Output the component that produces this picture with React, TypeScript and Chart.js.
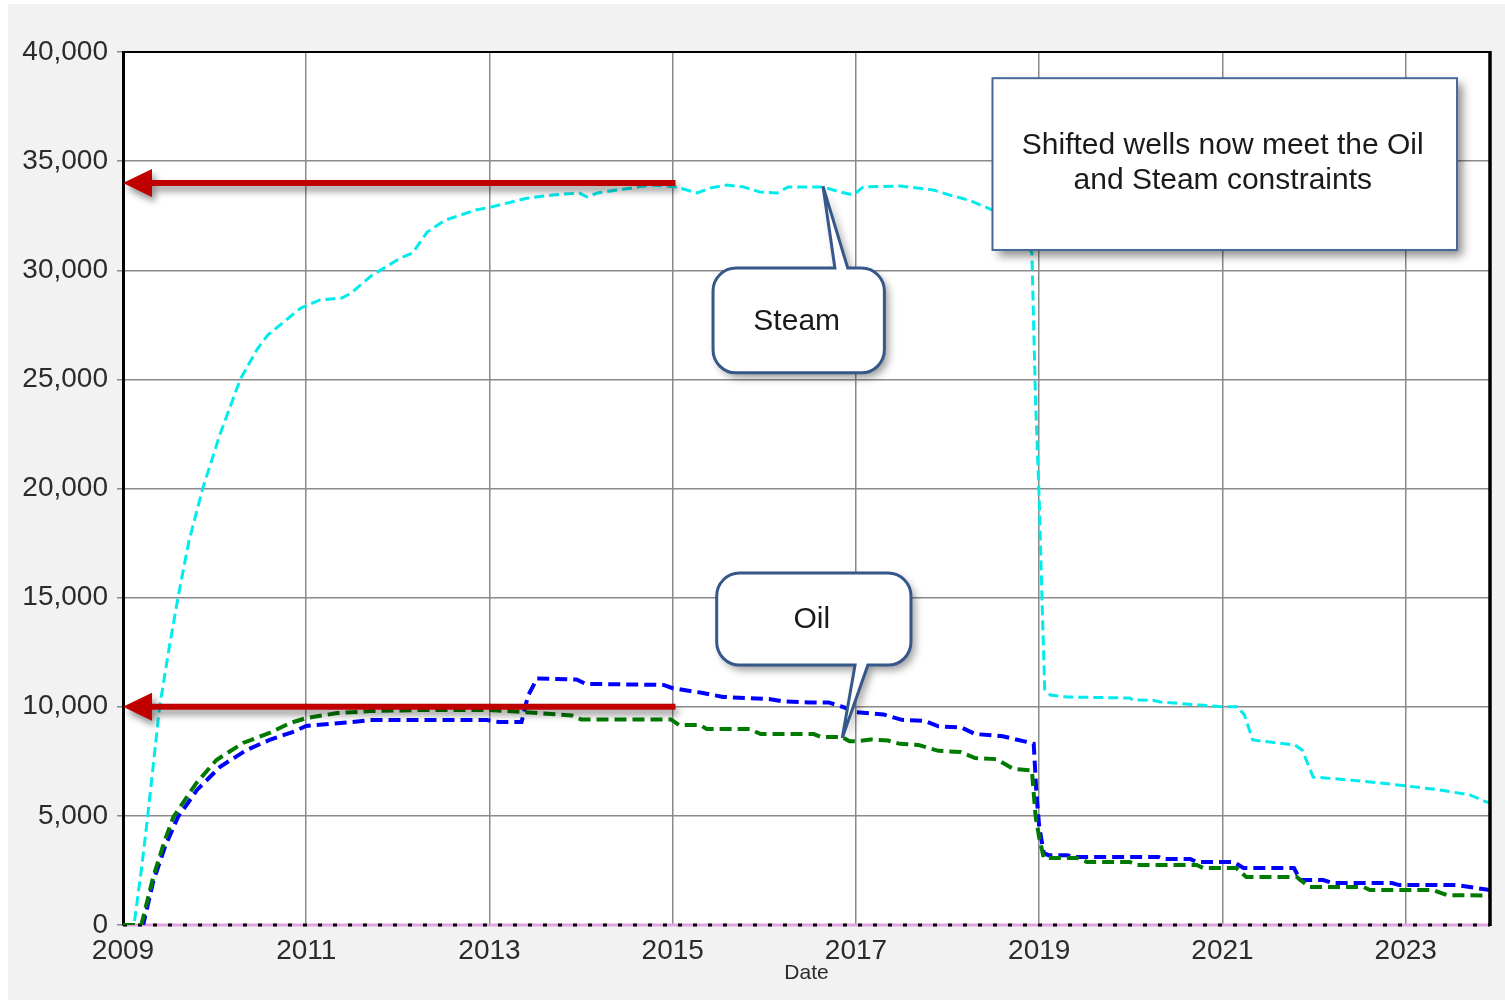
import React, { useEffect, useRef } from 'react';
import { Chart, registerables } from 'chart.js';

Chart.register(...registerables);

// ---------- data (decimal years, values) ----------
const steamDates = [2009.0, 2009.12, 2009.2, 2009.27, 2009.4, 2009.5, 2009.6, 2009.72, 2009.87, 2010.06, 2010.28, 2010.46, 2010.58, 2010.94, 2011.15, 2011.39, 2011.49, 2011.72, 2012.03, 2012.16, 2012.32, 2012.52, 2012.85, 2013.02, 2013.41, 2013.69, 2013.98, 2014.06, 2014.18, 2014.63, 2014.78, 2015.03, 2015.27, 2015.41, 2015.59, 2015.77, 2015.95, 2016.14, 2016.26, 2016.64, 2016.82, 2016.97, 2017.08, 2017.48, 2017.84, 2018.02, 2018.24, 2018.49, 2018.7, 2018.92, 2018.96, 2019.0, 2019.03, 2019.06, 2019.12, 2019.3, 2019.99, 2020.02, 2020.24, 2020.32, 2020.75, 2020.99, 2021.16, 2021.24, 2021.33, 2021.52, 2021.79, 2021.87, 2021.99, 2022.12, 2022.39, 2022.72, 2023.01, 2023.37, 2023.7, 2023.88, 2023.92];
const steamValues = [0, 0, 2500, 5000, 10000, 12600, 15000, 17600, 20000, 22500, 25000, 26350, 27030, 28270, 28640, 28730, 28960, 29780, 30560, 30790, 31750, 32300, 32760, 32900, 33300, 33450, 33540, 33360, 33540, 33820, 33900, 33820, 33540, 33770, 33900, 33820, 33590, 33540, 33820, 33820, 33590, 33450, 33820, 33860, 33680, 33450, 33200, 32760, 32200, 30800, 24000, 19500, 15000, 10800, 10540, 10450, 10400, 10310, 10300, 10220, 10080, 10000, 10000, 9620, 8480, 8380, 8250, 8020, 6780, 6740, 6640, 6510, 6370, 6190, 5960, 5640, 5600];

const blueDates = [2009.0, 2009.22, 2009.33, 2009.46, 2009.6, 2009.81, 2010.06, 2010.35, 2010.6, 2010.85, 2011.0, 2011.5, 2011.7, 2012.97, 2013.1, 2013.35, 2013.42, 2013.52, 2013.95, 2014.05, 2014.9, 2015.0, 2015.3, 2015.55, 2016.05, 2016.2, 2016.5, 2016.7, 2016.85, 2017.0, 2017.3, 2017.5, 2017.75, 2017.9, 2018.15, 2018.3, 2018.6, 2018.85, 2018.94, 2018.97, 2019.0, 2019.05, 2019.1, 2019.3, 2019.38, 2020.3, 2020.35, 2020.65, 2020.72, 2021.12, 2021.23, 2021.78, 2021.85, 2022.1, 2022.2, 2022.85, 2022.93, 2023.55, 2023.92];
const blueValues = [0, 0, 2000, 3600, 4950, 6200, 7250, 8020, 8480, 8840, 9120, 9300, 9390, 9390, 9300, 9300, 10500, 11300, 11250, 11050, 11000, 10850, 10650, 10450, 10350, 10250, 10200, 10200, 10000, 9750, 9650, 9400, 9350, 9100, 9050, 8750, 8650, 8400, 8300, 6000, 4500, 3300, 3200, 3200, 3120, 3120, 3020, 3020, 2890, 2890, 2610, 2610, 2060, 2060, 1920, 1920, 1830, 1830, 1600];

const greenDates = [2009.0, 2009.2, 2009.33, 2009.45, 2009.55, 2009.8, 2010.02, 2010.31, 2010.6, 2010.82, 2011.0, 2011.34, 2011.7, 2012.2, 2013.0, 2013.4, 2013.9, 2014.0, 2014.98, 2015.07, 2015.3, 2015.37, 2015.84, 2015.96, 2016.54, 2016.62, 2016.85, 2016.93, 2017.0, 2017.16, 2017.35, 2017.48, 2017.68, 2017.9, 2018.14, 2018.3, 2018.53, 2018.72, 2018.92, 2018.96, 2019.0, 2019.05, 2019.41, 2019.52, 2019.99, 2020.07, 2020.72, 2020.79, 2021.15, 2021.26, 2021.81, 2021.95, 2022.54, 2022.61, 2023.3, 2023.45, 2023.92];
const greenValues = [0, 0, 2200, 3800, 4950, 6500, 7560, 8340, 8800, 9250, 9480, 9710, 9800, 9850, 9850, 9750, 9600, 9420, 9420, 9160, 9160, 8980, 8980, 8750, 8750, 8610, 8610, 8420, 8420, 8500, 8450, 8300, 8250, 7980, 7930, 7650, 7600, 7150, 7080, 5000, 4000, 3070, 3070, 2890, 2890, 2750, 2750, 2610, 2610, 2200, 2200, 1740, 1740, 1600, 1600, 1370, 1350];

const zeroDates = [2009.0, 2023.92];
const zeroValues = [0, 0];

const xTickYears = [2009, 2011, 2013, 2015, 2017, 2019, 2021, 2023];
const xMin = 2009;
const xMax = 2023.92;
const yMin = 0;
const yMax = 40000;
const yStep = 5000;
const xTitle = 'Date';

// annotations (data coordinates)
const arrowLevels = [34000, 10000];
const arrowFrom = 2015.03;
const arrowTo = 2009.0;

const steamCallout = { text: 'Steam', x1: 2015.44, x2: 2017.31, yTop: 30100, yBottom: 25300, base1: 2016.77, base2: 2016.91, tipX: 2016.64, tipY: 33850, side: 'top' };
const oilCallout = { text: 'Oil', x1: 2015.48, x2: 2017.6, yTop: 16130, yBottom: 11910, base1: 2016.99, base2: 2017.13, tipX: 2016.85, tipY: 8570, side: 'bottom' };
const noteBox = { x1: 2018.49, x2: 2023.56, yTop: 38800, yBottom: 30930 };
const noteLines = ['Shifted wells now meet the Oil', 'and Steam constraints'];

const FONT = '"Liberation Sans", Arial, sans-serif';

const toPoints = (xs: number[], ys: number[]) => xs.map((x, i) => ({ x, y: ys[i] }));

function calloutPath(ctx: CanvasRenderingContext2D, l: number, t: number, r: number, b: number, rad: number, side: string, b1: number, b2: number, tx: number, ty: number) {
  ctx.beginPath();
  ctx.moveTo(l + rad, t);
  if (side === 'top') {
    ctx.lineTo(b1, t);
    ctx.lineTo(tx, ty);
    ctx.lineTo(b2, t);
  }
  ctx.lineTo(r - rad, t);
  ctx.arcTo(r, t, r, t + rad, rad);
  ctx.lineTo(r, b - rad);
  ctx.arcTo(r, b, r - rad, b, rad);
  if (side === 'bottom') {
    ctx.lineTo(b2, b);
    ctx.lineTo(tx, ty);
    ctx.lineTo(b1, b);
  }
  ctx.lineTo(l + rad, b);
  ctx.arcTo(l, b, l, b - rad, rad);
  ctx.lineTo(l, t + rad);
  ctx.arcTo(l, t, l + rad, t, rad);
  ctx.closePath();
}

const backgroundPlugin = {
  id: 'bg',
  beforeDraw(chart: any) {
    const { ctx, width, height, chartArea } = chart;
    ctx.save();
    ctx.fillStyle = '#ffffff';
    ctx.fillRect(0, 0, width, height);
    ctx.fillStyle = '#f2f2f2';
    ctx.fillRect(8, 4, width - 8, height - 6);
    ctx.fillStyle = '#ffffff';
    ctx.fillRect(chartArea.left, chartArea.top, chartArea.right - chartArea.left, chartArea.bottom - chartArea.top);
    ctx.restore();
  },
};

const annotationPlugin = {
  id: 'annots',
  afterDatasetsDraw(chart: any) {
    const { ctx, chartArea } = chart;
    const xs = chart.scales.x;
    const ys = chart.scales.y;

    // frame: top and right borders
    ctx.save();
    ctx.strokeStyle = '#000';
    ctx.lineWidth = 2;
    ctx.beginPath();
    ctx.moveTo(chartArea.left, chartArea.top);
    ctx.lineTo(chartArea.right, chartArea.top);
    ctx.stroke();
    ctx.lineWidth = 3.5;
    ctx.beginPath();
    ctx.moveTo(chartArea.right, chartArea.top - 1);
    ctx.lineTo(chartArea.right, chartArea.bottom + 1);
    ctx.stroke();
    ctx.restore();

    // red arrows
    arrowLevels.forEach((lv) => {
      const py = ys.getPixelForValue(lv);
      const x0 = xs.getPixelForValue(arrowTo);
      const x1 = xs.getPixelForValue(arrowFrom);
      const headL = 29, headH = 14, half = 3;
      ctx.save();
      ctx.shadowColor = 'rgba(0,0,0,0.45)';
      ctx.shadowBlur = 7;
      ctx.shadowOffsetX = 3;
      ctx.shadowOffsetY = 5;
      ctx.fillStyle = '#c00000';
      ctx.beginPath();
      ctx.moveTo(x0, py);
      ctx.lineTo(x0 + headL, py - headH);
      ctx.lineTo(x0 + headL, py - half);
      ctx.lineTo(x1, py - half);
      ctx.lineTo(x1, py + half);
      ctx.lineTo(x0 + headL, py + half);
      ctx.lineTo(x0 + headL, py + headH);
      ctx.closePath();
      ctx.fill();
      ctx.restore();
    });

    // callouts
    [steamCallout, oilCallout].forEach((c) => {
      const l = xs.getPixelForValue(c.x1);
      const r = xs.getPixelForValue(c.x2);
      const t = ys.getPixelForValue(c.yTop);
      const b = ys.getPixelForValue(c.yBottom);
      const b1 = xs.getPixelForValue(c.base1);
      const b2 = xs.getPixelForValue(c.base2);
      const tx = xs.getPixelForValue(c.tipX);
      const ty = ys.getPixelForValue(c.tipY);
      ctx.save();
      calloutPath(ctx, l, t, r, b, 23, c.side, b1, b2, tx, ty);
      ctx.shadowColor = 'rgba(0,0,0,0.4)';
      ctx.shadowBlur = 8;
      ctx.shadowOffsetX = 4;
      ctx.shadowOffsetY = 5;
      ctx.fillStyle = '#ffffff';
      ctx.fill();
      ctx.shadowColor = 'transparent';
      ctx.lineWidth = 3;
      ctx.strokeStyle = '#35578a';
      ctx.lineJoin = 'miter';
      ctx.stroke();
      ctx.fillStyle = '#1a1a1a';
      ctx.font = `30px ${FONT}`;
      ctx.textAlign = 'center';
      ctx.textBaseline = 'middle';
      ctx.fillText(c.text, (l + r) / 2 - 2, (t + b) / 2 + 1);
      ctx.restore();
    });

    // note box
    {
      const l = xs.getPixelForValue(noteBox.x1);
      const r = xs.getPixelForValue(noteBox.x2);
      const t = ys.getPixelForValue(noteBox.yTop);
      const b = ys.getPixelForValue(noteBox.yBottom);
      ctx.save();
      ctx.shadowColor = 'rgba(0,0,0,0.45)';
      ctx.shadowBlur = 9;
      ctx.shadowOffsetX = 6;
      ctx.shadowOffsetY = 6;
      ctx.fillStyle = '#ffffff';
      ctx.fillRect(l, t, r - l, b - t);
      ctx.shadowColor = 'transparent';
      ctx.lineWidth = 2;
      ctx.strokeStyle = '#4a6896';
      ctx.strokeRect(l, t, r - l, b - t);
      ctx.fillStyle = '#1a1a1a';
      ctx.font = `30px ${FONT}`;
      ctx.textAlign = 'center';
      ctx.textBaseline = 'middle';
      const cx = (l + r) / 2 - 2;
      const cy = (t + b) / 2;
      const lh = 35;
      noteLines.forEach((line, i) => {
        ctx.fillText(line, cx, cy + (i - (noteLines.length - 1) / 2) * lh - 1);
      });
      ctx.restore();
    }
  },
};

export default function App() {
  const canvasRef = useRef<HTMLCanvasElement | null>(null);

  useEffect(() => {
    const canvas = canvasRef.current;
    if (!canvas) return;
    const chart = new Chart(canvas, {
      type: 'line',
      data: {
        datasets: [
          {
            label: 'Oil (green)',
            data: toPoints(greenDates, greenValues),
            borderColor: '#007a00',
            borderWidth: 4,
            borderDash: [12, 6],
            pointRadius: 0,
            tension: 0,
            fill: false,
          },
          {
            label: 'Oil (blue)',
            data: toPoints(blueDates, blueValues),
            borderColor: '#0000ff',
            borderWidth: 4,
            borderDash: [12, 6],
            pointRadius: 0,
            tension: 0,
            fill: false,
          },
          {
            label: 'Steam',
            data: toPoints(steamDates, steamValues),
            borderColor: '#00ecec',
            borderWidth: 3,
            borderDash: [10, 5],
            pointRadius: 0,
            tension: 0,
            fill: false,
          },
          {
            label: 'Zero dashed',
            data: toPoints(zeroDates, zeroValues),
            borderColor: '#000000',
            borderWidth: 3,
            borderDash: [4, 11],
            pointRadius: 0,
            tension: 0,
            fill: false,
            clip: false,
          },
          {
            label: 'Zero',
            data: toPoints(zeroDates, zeroValues),
            borderColor: '#e2a3e2',
            borderWidth: 3,
            pointRadius: 0,
            tension: 0,
            fill: false,
            clip: false,
          },
        ],
      } as any,
      options: {
        animation: false,
        responsive: false,
        maintainAspectRatio: false,
        layout: { padding: { left: 0, top: 52, right: 15, bottom: 0 } },
        plugins: {
          legend: { display: false },
          tooltip: { enabled: false },
          title: { display: false },
        },
        scales: {
          x: {
            type: 'linear',
            min: xMin,
            max: xMax,
            afterBuildTicks: (s: any) => {
              s.ticks = xTickYears.map((v) => ({ value: v }));
            },
            afterFit: (s: any) => {
              s.height = 77;
            },
            ticks: {
              callback: (v: any) => String(v),
              color: '#2b2b2b',
              font: { family: FONT, size: 28 },
              padding: 9,
              maxRotation: 0,
              autoSkip: false,
            },
            grid: { color: '#8a8a8a', lineWidth: 1.5, drawTicks: false },
            border: { display: false },
            title: {
              display: true,
              text: xTitle,
              color: '#2b2b2b',
              font: { family: FONT, size: 21 },
              padding: { top: 0, bottom: 16 },
            },
          },
          y: {
            type: 'linear',
            min: yMin,
            max: yMax,
            afterFit: (s: any) => {
              s.width = 123;
            },
            ticks: {
              stepSize: yStep,
              callback: (v: any) => Number(v).toLocaleString('en-US'),
              color: '#2b2b2b',
              font: { family: FONT, size: 28 },
              padding: 9,
            },
            grid: { color: '#8a8a8a', lineWidth: 1.5, drawTicks: true, tickLength: 6 },
            border: { display: true, color: '#000000', width: 3 },
          },
        },
      } as any,
      plugins: [backgroundPlugin, annotationPlugin],
    });
    return () => chart.destroy();
  }, []);

  return (
    <div style={{ position: 'fixed', left: 0, top: 0, width: 1505, height: 1002, background: '#ffffff' }}>
      <canvas ref={canvasRef} width={1505} height={1002} style={{ display: 'block' }} />
    </div>
  );
}
